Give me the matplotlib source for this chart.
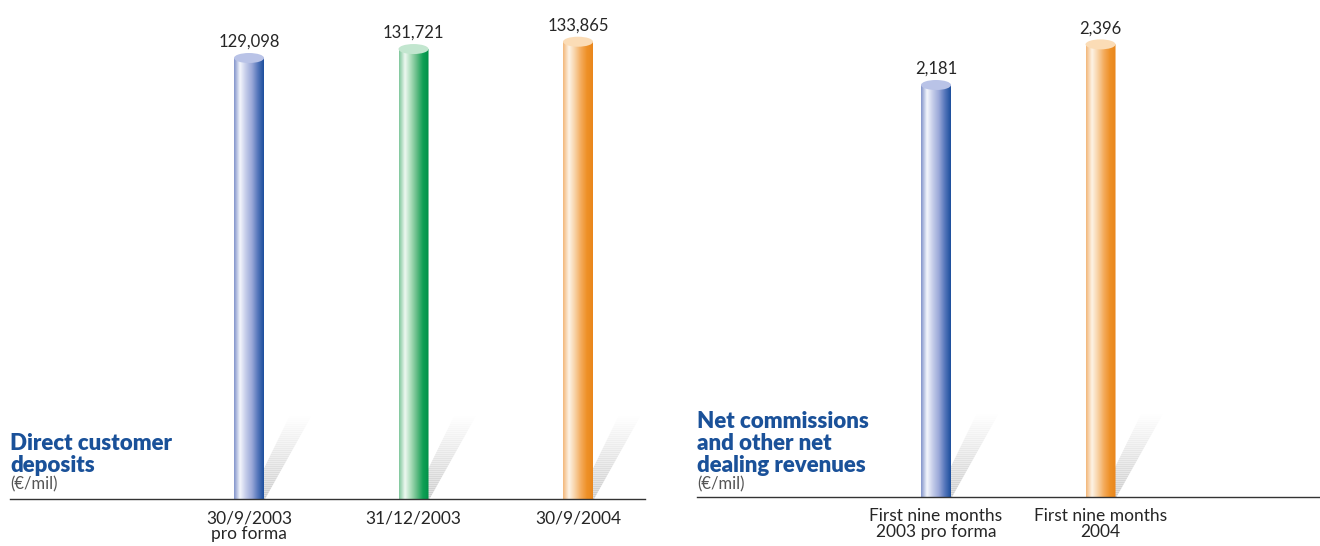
import numpy as np
import matplotlib
matplotlib.use("Agg")
import matplotlib.pyplot as plt
from matplotlib.colors import LinearSegmentedColormap
from matplotlib.lines import Line2D
from matplotlib.patches import Ellipse, PathPatch, Polygon
from matplotlib.path import Path

plt.rcParams['font.family'] = ['Lato', 'DejaVu Sans']

W, H = 1320, 546

# data
left_labels = ['30/9/2003\npro forma', '31/12/2003', '30/9/2004']
left_values = [129098, 131721, 133865]
left_texts = ['129,098', '131,721', '133,865']
left_styles = ['blue', 'green', 'orange']

right_labels = ['First nine months\n2003 pro forma', 'First nine months\n2004']
right_values = [2181, 2396]
right_texts = ['2,181', '2,396']
right_styles = ['blue', 'orange']

GRADIENTS = {
  'blue': ['#8193cb', '#f4f6fc', '#c3cbe9', '#9aa8d8', '#5576bb', '#1c4f9c'],
  'green': ['#7ec79b', '#eef8f1', '#a9dcb9', '#62bb85', '#10a055', '#009048'],
  'orange': ['#f3b779', '#fdf3e6', '#f8d2a5', '#f4ab5c', '#ee9128', '#e9861c'],
}
TOPS = {'blue': '#b9c3e7', 'green': '#c2e6cf', 'orange': '#fbdcb6'}

TEXT = '#262626'
TITLE = '#1a5199'


def cylinder(ax, xc, val, style, px):
  dx, dy = px
  w = 30 * dx
  eh = 10 * dy
  x0, x1 = xc - w / 2, xc + w / 2
  # shadow, striped and fading upward
  shadow = [(xc, 0), (xc + 16 * dx, 0), (xc + 63 * dx, 84 * dy), (xc + 41 * dx, 84 * dy)]
  sp = Polygon(shadow, closed=True, facecolor='none', edgecolor='none')
  ax.add_patch(sp)
  rows = 84
  grad = np.zeros((rows, 2, 4))
  grad[..., :3] = 0.6
  fade = np.linspace(0.5, 0.0, rows)
  fade[1::2] *= 0.65
  grad[..., 3] = fade[:, None]
  im = ax.imshow(grad, extent=(xc, xc + 63 * dx, 0, 84 * dy), origin='lower',
                 aspect='auto', interpolation='nearest', zorder=1)
  im.set_clip_path(sp)
  # body
  t = np.linspace(np.pi, 2 * np.pi, 40)
  verts = [(x0, val), (x0, 0)]
  verts += [(xc + w / 2 * np.cos(a), eh / 2 * np.sin(a)) for a in t]
  verts += [(x1, val), (x0, val)]
  body = PathPatch(Path(verts), facecolor='none', edgecolor='none')
  ax.add_patch(body)
  cmap = LinearSegmentedColormap.from_list(style, GRADIENTS[style])
  g = np.linspace(0, 1, 200)[None, :]
  im = ax.imshow(g, cmap=cmap, extent=(x0, x1, -eh, val), aspect='auto',
                 interpolation='bilinear', zorder=2)
  im.set_clip_path(body)
  ax.add_patch(Ellipse((xc, val), w, eh, facecolor=TOPS[style], edgecolor='none', zorder=3))


def panel(rect, values, texts, labels, styles, top, line_end):
  ax = fig.add_axes(rect)
  span = rect[2] * W / 164.5
  ax.set_xlim(-1.453, -1.453 + span)
  ax.set_ylim(0, top)
  ax.axis('off')
  dx = span / (rect[2] * W)
  dy = top / (rect[3] * H)
  for i, (v, s, lab, st) in enumerate(zip(values, texts, labels, styles)):
    cylinder(ax, i, v, st, (dx, dy))
    ax.annotate(s, (i, v), xytext=(0, 8), textcoords='offset points', ha='center',
                va='baseline', fontsize=12, color=TEXT, annotation_clip=False)
    ax.annotate(lab, (i, 0), xytext=(0, -8), textcoords='offset points', ha='center',
                va='top', fontsize=12.5, color=TEXT, linespacing=1.0,
                annotation_clip=False)
  ax.set_xlim(-1.453, -1.453 + span)
  ax.set_ylim(0, top)
  fig.add_artist(Line2D([rect[0], line_end], [rect[1], rect[1]],
                        transform=fig.transFigure, color='#333333', linewidth=1))
  return ax


fig = plt.figure(figsize=(W / 100, H / 100), dpi=100)

panel([10 / W, 47 / H, 635 / W, 499 / H], left_values, left_texts, left_labels,
      left_styles, 499 / 441 * 129098, 645 / W)
panel([697 / W, 49 / H, 600 / W, 497 / H], right_values, right_texts, right_labels,
      right_styles, 497 / 412 * 2181, 1.0)

fig.text(10 / W, 1 - 433 / H, 'Direct customer\ndeposits', fontsize=16, fontweight='heavy',
         color=TITLE, va='top', ha='left', linespacing=1.05)
fig.text(10 / W, 1 - 484 / H, '(€/mil)', fontsize=12, color='#555555', va='center', ha='left')
fig.text(697 / W, 1 - 411 / H, 'Net commissions\nand other net\ndealing revenues', fontsize=16,
         fontweight='heavy', color=TITLE, va='top', ha='left', linespacing=1.05)
fig.text(697 / W, 1 - 484 / H, '(€/mil)', fontsize=12, color='#555555', va='center', ha='left')

fig.savefig('out.png', dpi=100)
